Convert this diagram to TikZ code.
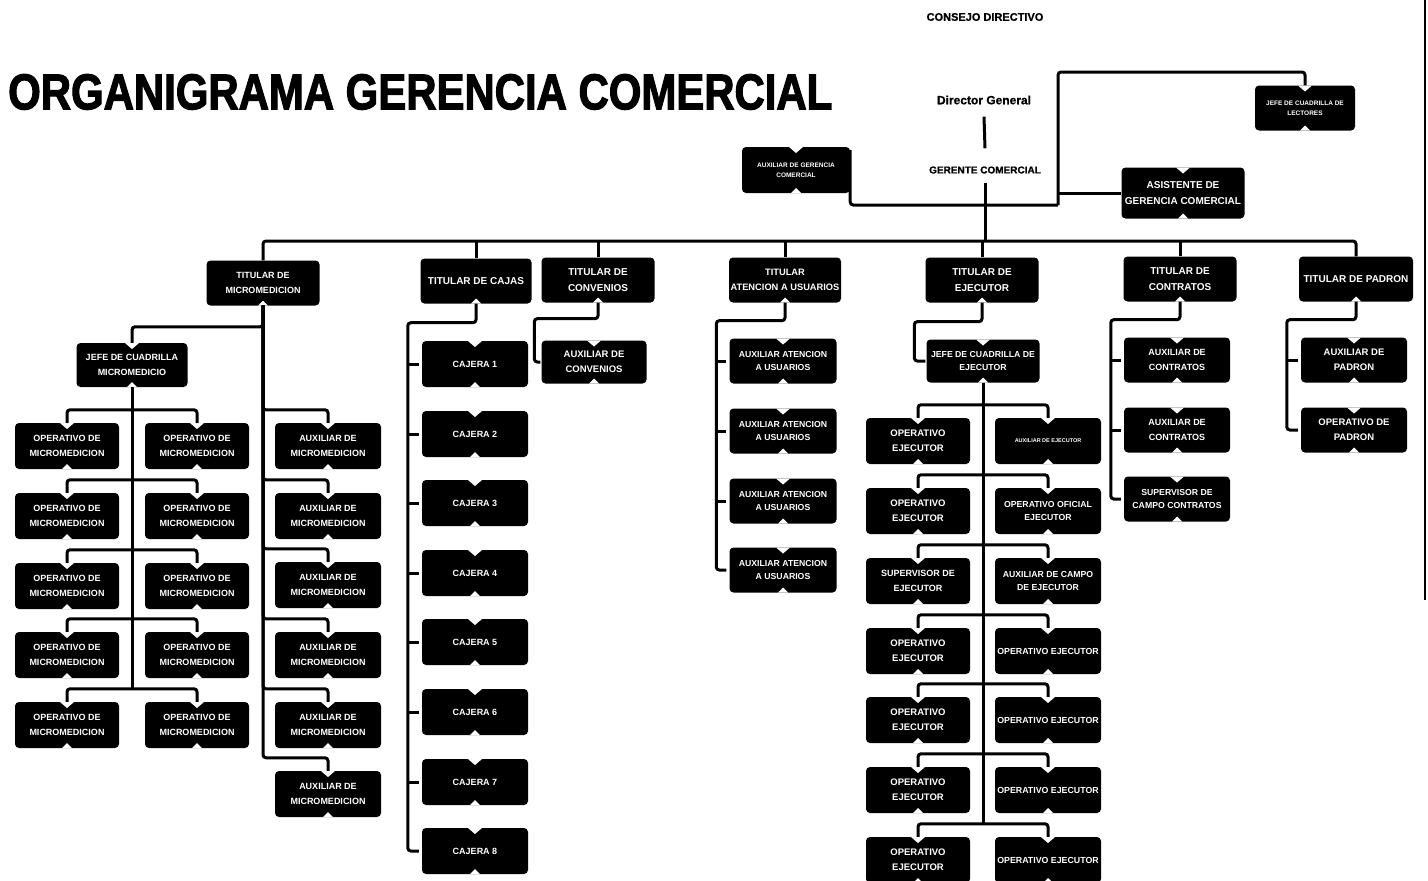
\documentclass[tikz,border=0pt]{standalone}
\usepackage{fontspec}
\setmainfont{Liberation Sans}
\newfontfamily\heavyfont{Liberation Sans}[BoldFeatures={FakeBold=2.5}]
\newfontfamily\semiheavy{Liberation Sans}[BoldFeatures={FakeBold=1}]
\usepackage{graphicx}
\tikzset{
  ln/.style={line width=3pt, rounded corners=3pt},
  fs/.style={font=\bfseries\fontsize{#1}{12}\selectfont\setlength{\baselineskip}{1.6em}},
  hfs/.style={font=\semiheavy\bfseries\fontsize{#1}{12}\selectfont},
  bx/.style={fill=black, text=white, rounded corners=4pt, align=center, inner sep=1pt,
    minimum width=104pt, minimum height=46pt, fs=9},
  tit/.style={bx, minimum width=113pt, minimum height=45pt, fs=10},
  nt/.style={path picture={
    \fill[white,sharp corners] ([xshift=-7pt]path picture bounding box.north) -- ([xshift=7pt]path picture bounding box.north) -- ([yshift=-6pt]path picture bounding box.north) -- cycle;
    \fill[white,sharp corners] ([xshift=-5pt]path picture bounding box.south) -- ([xshift=5pt]path picture bounding box.south) -- ([yshift=5pt]path picture bounding box.south) -- cycle;}},
  nb/.style={path picture={
    \fill[white,sharp corners] ([xshift=-5pt]path picture bounding box.south) -- ([xshift=5pt]path picture bounding box.south) -- ([yshift=5pt]path picture bounding box.south) -- cycle;}},
  hd/.style={inner sep=1pt, text=black}
}
\begin{document}
\begin{tikzpicture}[x=1pt,y=-1pt]
\useasboundingbox (0,0) rectangle (1428,881);
% title
\node[anchor=north west, inner sep=0] (title) at (8,74) {\resizebox{824pt}{35pt}{\heavyfont\bfseries ORGANIGRAMA GERENCIA COMERCIAL}};
% right scan border
\draw[line width=2.5pt] (1425,0) -- (1425,600);
% header
\node[hd, hfs=11] (cons) at (985,17) {CONSEJO DIRECTIVO};
\node[hd, hfs=12] (dir) at (984,100) {Director General};
\node[hd, hfs=10] (ger) at (985,170) {GERENTE COMERCIAL};
\draw[ln] ([yshift=-11pt]dir.south) -- ([yshift=17pt]ger.north);
\node[bx, nt, minimum width=108pt, fs=6.5] (auxg) at (796,170) {AUXILIAR DE GERENCIA\\COMERCIAL};
\node[bx, nt, minimum width=100pt, minimum height=45pt, fs=6.5] (lect) at (1305,108) {JEFE DE CUADRILLA DE\\LECTORES};
\node[bx, nt, minimum width=123pt, minimum height=51pt, inner sep=0pt, fs=10] (asis) at (1183,193) {ASISTENTE DE\\GERENCIA COMERCIAL};
\coordinate (jx) at (1058,205);
\coordinate (jtop) at (1058,72);
\coordinate (hub) at (985,241);
\draw[ln] ([yshift=-3pt]auxg.north east) -- (auxg.north east |- jx) -- (jx);
\draw[ln] (jx) -- (jtop) -| (lect.north);
\draw[ln] (asis.west -| jx) -- (asis.west);
\draw[ln] ([yshift=-8pt]ger.south) -- (hub);
% titulares
\node[tit, nb, fs=9] (tmic) at (263,283) {TITULAR DE\\MICROMEDICION};
\node[tit, nb, minimum width=111pt] (tcaj) at (476,281) {TITULAR DE CAJAS};
\node[tit, nb] (tcon) at (598,280) {TITULAR DE\\CONVENIOS};
\node[tit, nb, minimum width=112pt, fs=9.3] (tate) at (785,280) {TITULAR\\ATENCION A USUARIOS};
\node[tit, nb] (teje) at (982,280) {TITULAR DE\\EJECUTOR};
\node[tit, nb] (tcnt) at (1180,279) {TITULAR DE\\CONTRATOS};
\node[tit, nb, minimum width=114pt, inner sep=0pt] (tpad) at (1356,279) {TITULAR DE PADRON};
\draw[ln] (tmic.north) -- (tmic.north |- hub) -- (tpad.north |- hub) -- (tpad.north);
\foreach \t in {tcaj,tcon,tate,teje,tcnt} \draw[ln] (\t.north) -- (\t.north |- hub);
% micromedicion
\node[bx, nt, minimum width=111pt, minimum height=44pt, fs=9] (jmic) at (132,365) {JEFE DE CUADRILLA\\MICROMEDICIO};
\draw[ln] (jmic.north) -- ++(0,-16) -| (tmic.south);
\foreach \i/\y in {1/446,2/516,3/586,4/655,5/725} {
  \node[bx, nt] (oL\i) at (67,\y) {OPERATIVO DE\\MICROMEDICION};
  \node[bx, nt] (oR\i) at (197,\y) {OPERATIVO DE\\MICROMEDICION};
  \draw[ln] (oL\i.north) -- ++(0,-13) coordinate (mr\i) -| (oR\i.north);
}
\draw[ln] (jmic.south) -- (jmic.south |- mr5);
\foreach \i/\y in {1/446,2/516,3/585,4/655,5/725,6/794} {
  \node[bx, nt, minimum width=106pt] (am\i) at (328,\y) {AUXILIAR DE\\MICROMEDICION};
  \draw[ln] (am\i.north) -- ++(0,-13) -| (tmic.south);
}
% cajas
\foreach \i/\y in {1/364,2/434,3/503,4/573,5/642,6/712,7/782,8/851} {
  \node[bx, nt, minimum width=106pt, fs=9] (c\i) at (475,\y) {CAJERA \i};
}
\draw[ln] (tcaj.south) -- ++(0,19) -| ([xshift=-14pt]c8.west) -- ([xshift=-3pt]c8.west);
\foreach \i in {1,...,7} \draw[ln] ([xshift=-14pt]c\i.west) -- ([xshift=-3pt]c\i.west);
% convenios
\node[bx, nt, minimum width=105pt, minimum height=43pt, fs=9.5] (acon) at (594,362) {AUXILIAR DE\\CONVENIOS};
\draw[ln] (tcon.south) -- ++(0,16) -| ([xshift=-7pt]acon.west) -- ([xshift=-1pt]acon.west);
% atencion
\foreach \i/\y in {1/361,2/431,3/501,4/570} {
  \node[bx, nt, minimum width=107pt, minimum height=45pt, fs=8.7] (au\i) at (783,\y) {AUXILIAR ATENCION\\A USUARIOS};
}
\draw[ln] (tate.south) -- ++(0,18) -| ([xshift=-13pt]au4.west) -- ([xshift=-3pt]au4.west);
\foreach \i in {1,2,3} \draw[ln] ([xshift=-13pt]au\i.west) -- ([xshift=-3pt]au\i.west);
% ejecutor
\node[bx, nt, minimum width=113pt, minimum height=43pt, fs=8.7] (jeje) at (983,361) {JEFE DE CUADRILLA DE\\EJECUTOR};
\draw[ln] (teje.south) -- ++(0,19) -| ([xshift=-12pt]jeje.west) -- ([xshift=-1pt]jeje.west);
\node[bx, nt, fs=9.5] (eL1) at (918,441) {OPERATIVO\\EJECUTOR};
\node[bx, nt, minimum width=106pt, fs=5.5] (eR1) at (1048,441) {AUXILIAR DE EJECUTOR};
\node[bx, nt, fs=9.5] (eL2) at (918,511) {OPERATIVO\\EJECUTOR};
\node[bx, nt, minimum width=106pt, fs=8.7] (eR2) at (1048,511) {OPERATIVO OFICIAL\\EJECUTOR};
\node[bx, nt] (eL3) at (918,581) {SUPERVISOR DE\\EJECUTOR};
\node[bx, nt, minimum width=106pt, fs=8.7] (eR3) at (1048,581) {AUXILIAR DE CAMPO\\DE EJECUTOR};
\foreach \i/\y in {4/651,5/720,6/790,7/860} {
  \node[bx, nt, fs=9.5] (eL\i) at (918,\y) {OPERATIVO\\EJECUTOR};
  \node[bx, nt, minimum width=106pt, inner sep=0pt, fs=8.8] (eR\i) at (1048,\y) {OPERATIVO EJECUTOR};
}
\foreach \i in {1,...,7} \draw[ln] (eL\i.north) -- ++(0,-13) coordinate (er\i) -| (eR\i.north);
\draw[ln] (jeje.south) -- (jeje.south |- er7);
% contratos
\node[bx, nt, minimum width=106pt, minimum height=45pt] (ct1) at (1177,360) {AUXILIAR DE\\CONTRATOS};
\node[bx, nt, minimum width=106pt, minimum height=45pt] (ct2) at (1177,430) {AUXILIAR DE\\CONTRATOS};
\node[bx, nt, minimum width=106pt, minimum height=45pt, fs=8.7] (ct3) at (1177,499) {SUPERVISOR DE\\CAMPO CONTRATOS};
\draw[ln] (tcnt.south) -- ++(0,18) -| ([xshift=-13pt]ct3.west) -- ([xshift=-3pt]ct3.west);
\foreach \i in {1,2} \draw[ln] ([xshift=-13pt]ct\i.west) -- ([xshift=-3pt]ct\i.west);
% padron
\node[bx, nt, minimum width=106pt, minimum height=45pt, fs=9.5] (pd1) at (1354,360) {AUXILIAR DE\\PADRON};
\node[bx, nt, minimum width=106pt, minimum height=45pt, fs=9.5] (pd2) at (1354,430) {OPERATIVO DE\\PADRON};
\draw[ln] (tpad.south) -- ++(0,18) -| ([xshift=-14pt]pd2.west) -- ([xshift=-3pt]pd2.west);
\draw[ln] ([xshift=-14pt]pd1.west) -- ([xshift=-3pt]pd1.west);
\end{tikzpicture}
\end{document}
